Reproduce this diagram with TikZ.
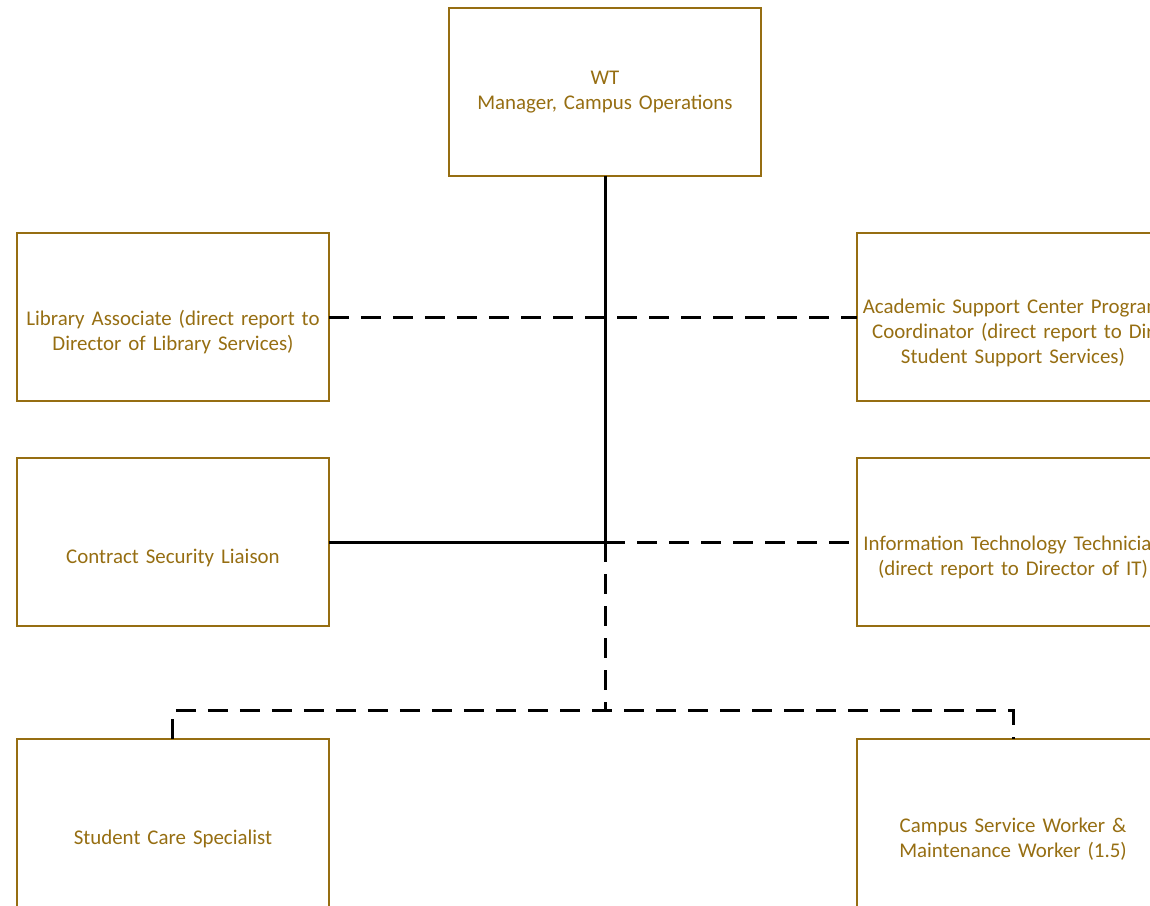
\documentclass[tikz,border=0pt]{standalone}
\usepackage{fontspec}
\setmainfont{Carlito}
\usepackage{tikz}
\usetikzlibrary{matrix}
\usepackage{xcolor}
\definecolor{boxgold}{RGB}{150,110,18}

\begin{document}
\begin{tikzpicture}[
        box/.style={draw=boxgold, line width=1pt, text=boxgold, align=center,
                    text width=154pt, inner sep=1pt, minimum height=84pt, outer sep=0pt,
                    anchor=center, font=\fontsize{10.45pt}{12.5pt}\selectfont},
        low/.style={execute at begin node={\rule{0pt}{23pt}}},
        solidlink/.style={line width=1.5pt},
        dashlink/.style={line width=1.5pt, dash pattern=on 10pt off 6pt}]
        \matrix (m) [matrix of nodes, row sep=27.5pt, column sep=47pt, nodes={box}]
        {
                                                  &[12pt] {WT\\Manager, Campus Operations} &                                                     \\
         |[low]| {Library Associate (direct report to\\Director of Library Services)} &       & |[low]| {Academic Support Center Program\\Coordinator (direct report to Dir\\Student Support Services)} \\
         |[low]| Contract Security Liaison        &        & |[low]| {Information Technology Technician\\(direct report to Director of IT)} \\[28pt]
         |[low]| Student Care Specialist         &        & |[low]| {Campus Service Worker \&\\Maintenance Worker (1.5)} \\
          };

        % junctions on the trunk
        \coordinate (tee) at (m-1-2.south |- m-3-1.east);
        \path (m-1-2.south |- m-4-1.north) ++(0,14.5pt) coordinate (bus);

        % solid reports
        \draw[solidlink] (m-1-2.south) -- (tee);
        \draw[solidlink] (m-3-1.east) -- (tee);

        % dotted-line reports
        \draw[dashlink] (m-2-1.east) -- (m-2-3.west);
        \draw[dashlink] (tee) -- (m-3-3.west);
        \draw[dashlink] (tee) -- (bus);
        \draw[dashlink] (m-4-1.north) |- (bus) -| (m-4-3.north);

        \pgfresetboundingbox
        \path[use as bounding box] ([shift={(-302.5pt,46pt)}]m-1-2.center) rectangle ([shift={(272.5pt,-406.5pt)}]m-1-2.center);
\end{tikzpicture}
\end{document}
